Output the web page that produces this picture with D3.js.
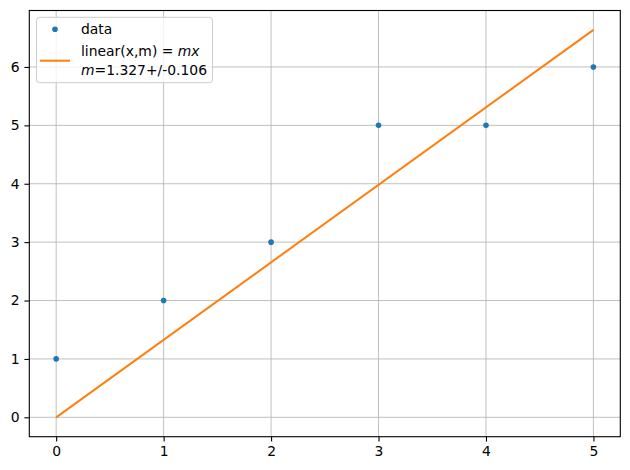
<!DOCTYPE html>
<html>
<head>
<meta charset="utf-8">
<script src="https://cdn.jsdelivr.net/npm/d3@7"></script>
<style>
  body { margin: 0; background: #fff; }
  text { font-family: "DejaVu Sans", sans-serif; }
</style>
</head>
<body>
<svg id="chart" width="630" height="470"></svg>
<script>
// data points
const xData = [0, 1, 2, 3, 4, 5];
const yData = [1, 2, 3, 5, 5, 6];
// fitted line y = m x
const lineX = [0, 5];
const lineY = [0, 6.635];
const xTicks = [0, 1, 2, 3, 4, 5];
const yTicks = [0, 1, 2, 3, 4, 5, 6];

const width = 630, height = 470;
const margin = { left: 29.3, right: 9.7, top: 10.5, bottom: 33.3 };

const svg = d3.select("#chart");

const x = d3.scaleLinear()
  .domain([-0.25, 5.25])
  .range([margin.left, width - margin.right]);
const y = d3.scaleLinear()
  .domain([-0.332, 6.967])
  .range([height - margin.bottom, margin.top]);

// grid
const grid = svg.append("g").attr("stroke", "#b0b0b0").attr("stroke-width", 0.8);
grid.selectAll(".vg").data(xTicks).enter().append("line")
  .attr("x1", d => x(d)).attr("x2", d => x(d))
  .attr("y1", margin.top).attr("y2", height - margin.bottom);
grid.selectAll(".hg").data(yTicks).enter().append("line")
  .attr("y1", d => y(d)).attr("y2", d => y(d))
  .attr("x1", margin.left).attr("x2", width - margin.right);

// axes
const xAxis = svg.append("g")
  .attr("transform", `translate(0,${height - margin.bottom})`)
  .call(d3.axisBottom(x).tickValues(xTicks).tickSize(4.9).tickPadding(4.9).tickFormat(d3.format("d")));
const yAxis = svg.append("g")
  .attr("transform", `translate(${margin.left},0)`)
  .call(d3.axisLeft(y).tickValues(yTicks).tickSize(4.9).tickPadding(4.9).tickFormat(d3.format("d")));
[xAxis, yAxis].forEach(a => {
  a.select(".domain").remove();
  a.selectAll("text").attr("font-size", 13.9).attr("font-family", "DejaVu Sans").attr("fill", "#000");
  a.selectAll("line").attr("stroke", "#000").attr("stroke-width", 1.1);
});

// fit line
svg.append("path")
  .datum(lineX.map((d, i) => [d, lineY[i]]))
  .attr("fill", "none")
  .attr("stroke", "#ff7f0e")
  .attr("stroke-width", 2)
  .attr("d", d3.line().x(d => x(d[0])).y(d => y(d[1])));

// points
svg.selectAll(".pt").data(xData).enter().append("circle")
  .attr("cx", d => x(d))
  .attr("cy", (d, i) => y(yData[i]))
  .attr("r", 2.8)
  .attr("fill", "#1f77b4");

// frame
svg.append("rect")
  .attr("x", margin.left).attr("y", margin.top)
  .attr("width", width - margin.left - margin.right)
  .attr("height", height - margin.top - margin.bottom)
  .attr("fill", "none").attr("stroke", "#000").attr("stroke-width", 1.1);

// legend
const lg = svg.append("g");
lg.append("rect")
  .attr("x", 36.5).attr("y", 17.3).attr("width", 176).attr("height", 65.4)
  .attr("rx", 3).attr("fill", "#fff").attr("fill-opacity", 0.8)
  .attr("stroke", "#cccccc").attr("stroke-width", 1);
lg.append("circle").attr("cx", 55).attr("cy", 29.3).attr("r", 2.8).attr("fill", "#1f77b4");
lg.append("text").attr("x", 81).attr("y", 34.3).attr("font-size", 13.9).text("data");
lg.append("line").attr("x1", 40).attr("x2", 70).attr("y1", 60.7).attr("y2", 60.7)
  .attr("stroke", "#ff7f0e").attr("stroke-width", 2);
const t1 = lg.append("text").attr("x", 81).attr("y", 56).attr("font-size", 13.9);
t1.append("tspan").text("linear(x,m) = ");
t1.append("tspan").attr("font-style", "italic").text("mx");
const t2 = lg.append("text").attr("x", 81).attr("y", 75).attr("font-size", 13.9);
t2.append("tspan").attr("font-style", "italic").text("m");
t2.append("tspan").text("=1.327+/-0.106");
</script>
</body>
</html>
